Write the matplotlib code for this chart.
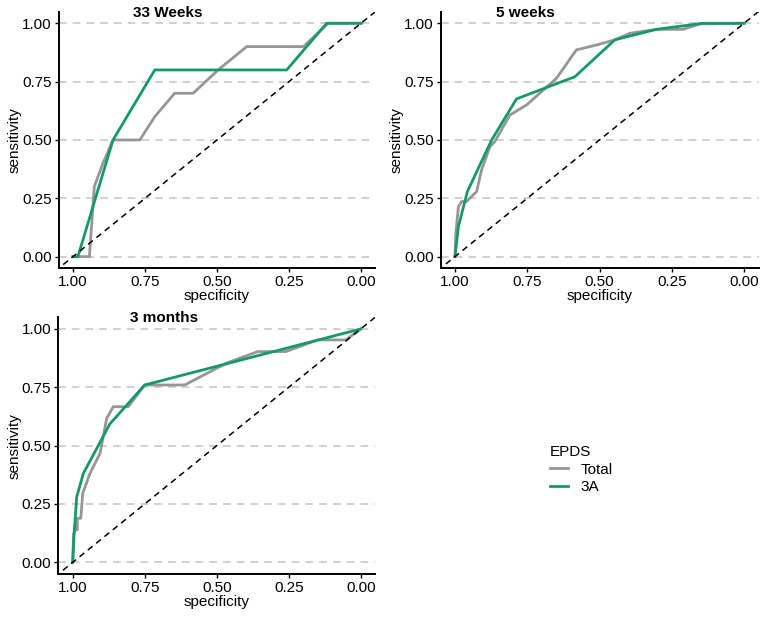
import matplotlib.pyplot as plt
from matplotlib.lines import Line2D

plt.rcParams['font.family'] = ['Liberation Sans', 'DejaVu Sans']

# ----------------------------
# 1. Data
# ----------------------------
# 33 weeks
w33_total_spec = [1.00, 0.943, 0.926, 0.896, 0.861, 0.768, 0.716, 0.647, 0.583, 0.496, 0.397, 0.200, 0.114, 0.00]
w33_total_sens = [0.00, 0.00, 0.30, 0.40, 0.50, 0.50, 0.60, 0.70, 0.70, 0.80, 0.90, 0.90, 1.00, 1.00]
w33_3a_spec = [1.00, 0.983, 0.861, 0.716, 0.258, 0.119, 0.00]
w33_3a_sens = [0.00, 0.00, 0.50, 0.80, 0.80, 1.00, 1.00]

# 5 weeks
w5_total_spec = [1.00, 0.997, 0.988, 0.977, 0.960, 0.925, 0.908, 0.879, 0.862, 0.810, 0.752, 0.649, 0.580, 0.510, 0.447, 0.395, 0.303, 0.211, 0.153, 0.00]
w5_total_sens = [0.00, 0.10, 0.214, 0.236, 0.236, 0.279, 0.371, 0.471, 0.493, 0.607, 0.650, 0.764, 0.886, 0.907, 0.929, 0.957, 0.974, 0.974, 0.997, 1.00]
w5_3a_spec = [1.00, 0.988, 0.957, 0.873, 0.787, 0.585, 0.447, 0.303, 0.142, 0.00]
w5_3a_sens = [0.00, 0.129, 0.279, 0.50, 0.676, 0.771, 0.929, 0.974, 1.00, 1.00]

# 3 months
m3_total_spec = [1.00, 0.997, 0.992, 0.984, 0.984, 0.972, 0.965, 0.940, 0.905, 0.882, 0.859, 0.807, 0.750, 0.611, 0.467, 0.358, 0.260, 0.150, 0.052, 0.00]
m3_total_sens = [0.00, 0.120, 0.139, 0.139, 0.189, 0.189, 0.296, 0.381, 0.467, 0.617, 0.667, 0.667, 0.760, 0.760, 0.853, 0.903, 0.903, 0.953, 0.953, 1.00]
m3_3a_spec = [1.00, 0.995, 0.986, 0.963, 0.871, 0.750, 0.00]
m3_3a_sens = [0.00, 0.124, 0.281, 0.381, 0.593, 0.760, 1.00]

panel_titles = ["33 Weeks", "5 weeks", "3 months"]
tick_vals = [0.00, 0.25, 0.50, 0.75, 1.00]
tick_labels = ["0.00", "0.25", "0.50", "0.75", "1.00"]
legend_title = "EPDS"
series_names = ["Total", "3A"]

GREY = "#969696"
GREEN = "#15996b"

# ----------------------------
# 2. Figure
# ----------------------------
W, H = 764, 617
fig = plt.figure(figsize=(W / 100, H / 100), dpi=100)
fig.patch.set_facecolor("white")

# axes rectangles in pixels (left, top, width, height)
rects = [(58.6, 11.6, 316.8, 256.7),
         (440.5, 11.6, 318.0, 256.7),
         (58.3, 317.3, 316.8, 256.7)]
title_pos = [(168, 13), (525, 13), (164, 318)]
ylabel_x = [22, 404, 22]

data = [(w33_total_spec, w33_total_sens, w33_3a_spec, w33_3a_sens),
        (w5_total_spec, w5_total_sens, w5_3a_spec, w5_3a_sens),
        (m3_total_spec, m3_total_sens, m3_3a_spec, m3_3a_sens)]

for rect, tpos, lx, title, d in zip(rects, title_pos, ylabel_x, panel_titles, data):
    l, t, w, h = rect
    ax = fig.add_axes([l / W, 1 - (t + h) / H, w / W, h / H])
    ax.set_xlim(1.05, -0.05)
    ax.set_ylim(-0.05, 1.05)
    for yv in tick_vals:
        ax.axhline(yv, color="#c4c4c4", lw=1.1, ls=(0, (5, 4)), zorder=0)
    ax.axline((1, 0), (0, 1), color="black", lw=1.1, ls=(0, (4, 3)), zorder=3)
    ax.plot(d[0], d[1], color=GREY, lw=2.0, zorder=1, solid_joinstyle="round")
    ax.plot(d[2], d[3], color=GREEN, lw=2.0, zorder=2, solid_joinstyle="round")
    ax.set_xticks(tick_vals)
    ax.set_xticklabels(tick_labels)
    ax.set_yticks(tick_vals)
    ax.set_yticklabels(tick_labels)
    ax.tick_params(labelsize=11, length=3, width=1, pad=2, colors="black")
    for s in ["top", "right"]:
        ax.spines[s].set_visible(False)
    for s in ["left", "bottom"]:
        ax.spines[s].set_linewidth(1.4)
    ax.set_xlabel("specificity", fontsize=11, labelpad=0)
    ax.set_ylabel("sensitivity", fontsize=11)
    ax.yaxis.set_label_coords((lx - l) / w, 0.5)
    fig.text(tpos[0] / W, 1 - tpos[1] / H, title, fontsize=11,
             fontweight="bold", ha="center", va="center")

# legend
handles = [Line2D([], [], color=GREY, lw=2.0), Line2D([], [], color=GREEN, lw=2.0)]
leg = fig.legend(handles, series_names, title=legend_title, loc="upper left",
                 bbox_to_anchor=(536 / W, 1 - 431 / H), frameon=False,
                 fontsize=11, title_fontsize=11, handlelength=1.2,
                 handletextpad=0.8, labelspacing=0.25)
leg._legend_box.align = "left"

fig.savefig("out.png", dpi=100)
